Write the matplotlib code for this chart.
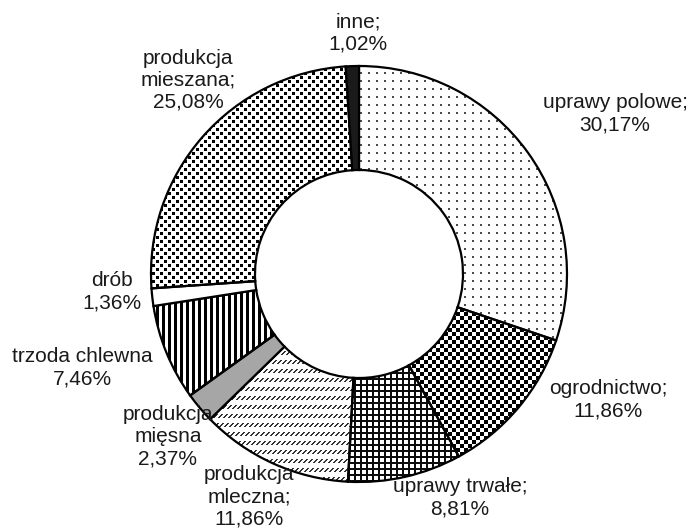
import numpy as np
import matplotlib
matplotlib.use("Agg")
import matplotlib.pyplot as plt

# dane
kategorie = ["uprawy polowe", "ogrodnictwo", "uprawy trwałe", "produkcja mleczna",
             "produkcja mięsna", "trzoda chlewna", "drób", "produkcja mieszana", "inne"]
udzialy = [30.17, 11.86, 8.81, 11.86, 2.37, 7.46, 1.36, 25.08, 1.02]
etykiety = ["uprawy polowe;\n30,17%", "ogrodnictwo;\n11,86%", "uprawy trwałe;\n8,81%",
            "produkcja\nmleczna;\n11,86%", "produkcja\nmięsna\n2,37%", "trzoda chlewna\n7,46%",
            "drób\n1,36%", "produkcja\nmieszana;\n25,08%", "inne;\n1,02%"]

# pozycje etykiet (piksele od lewej, od góry)
poz_etykiet = [(615, 114), (608, 400), (460, 498), (249, 497), (168, 437),
               (82, 368), (112, 292), (188, 80), (358, 33)]

W, H = 691, 530
CX, CY, R = 359, 274, 208

# tekstury pikselowe (1 = biały, 0 = czarny)
yy, xx = np.indices((H, W))


def kropki():
    t = np.ones((H, W))
    t[(xx % 8 < 2) & (yy % 8 < 2)] = 0.3
    return t


def szachownica():
    return ((xx // 4 + yy // 4) % 2).astype(float)


def kratka():
    t = np.ones((H, W))
    t[(xx % 6 < 2) | (yy % 6 < 2)] = 0.05
    return t


def kreski():
    t = np.ones((H, W))
    t[((xx + yy) % 5 < 2) & (yy % 9 < 4)] = 0.2
    return t


def paski():
    t = np.ones((H, W))
    t[xx % 6 < 3] = 0.0
    return t


def gesie_kropki():
    t = np.ones((H, W))
    a = (xx % 8 < 3) & (yy % 8 < 3)
    b = ((xx + 4) % 8 < 3) & ((yy + 4) % 8 < 3)
    t[a | b] = 0.0
    return t


tekstury = [kropki(), szachownica(), kratka(), kreski(), None, paski(), None,
            gesie_kropki(), None]
kolory = ["none", "none", "none", "none", "#a6a6a6", "none", "white", "none", "#1a1a1a"]

fig = plt.figure(figsize=(W / 100, H / 100), dpi=100)
ax = fig.add_axes([0, 0, 1, 1])

wedges, _ = ax.pie(udzialy, startangle=90, counterclock=False, center=(CX, H - CY),
                   radius=R, colors=kolory,
                   wedgeprops=dict(width=R * 0.5, edgecolor="black", linewidth=1.6))

for w, tex in zip(wedges, tekstury):
    w.set_zorder(2)
    if tex is None:
        continue
    im = ax.imshow(tex, cmap="gray", vmin=0, vmax=1, extent=(0, W, 0, H),
                   origin="upper", interpolation="nearest", zorder=1)
    im.set_clip_path(w)

for txt, (px, py) in zip(etykiety, poz_etykiet):
    ax.text(px, H - py, txt, ha="center", va="center", multialignment="center",
            fontsize=15, family="Liberation Sans", color="#1a1a1a",
            linespacing=1.2, zorder=5)

ax.set_xlim(0, W)
ax.set_ylim(0, H)
ax.set_aspect("equal")
ax.axis("off")

fig.savefig("out.png", dpi=100)
